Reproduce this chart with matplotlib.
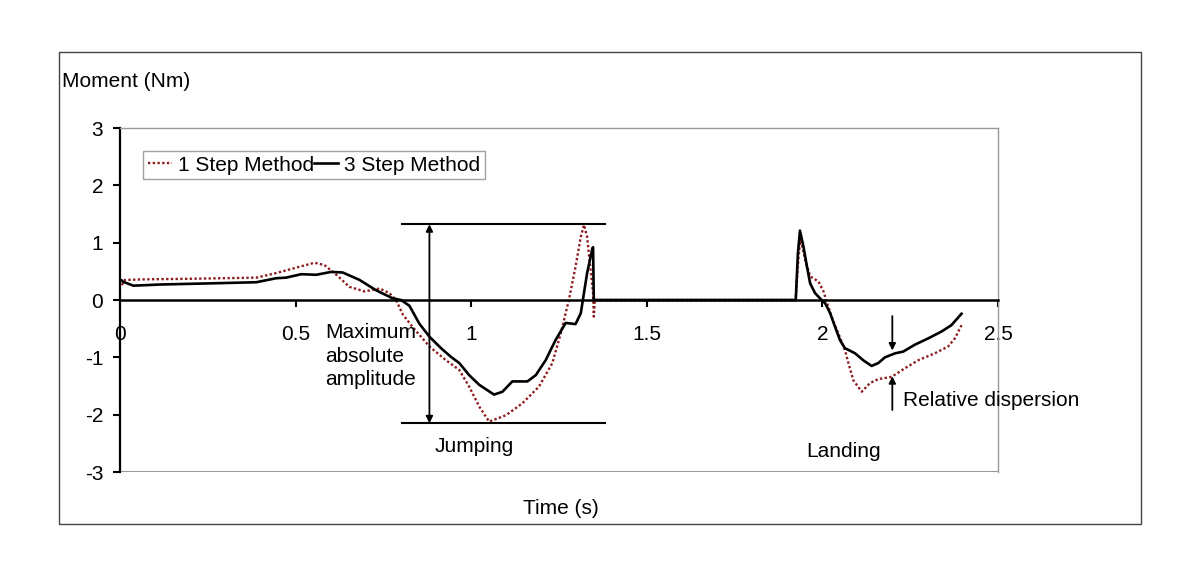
import numpy as np
import matplotlib.pyplot as plt
from matplotlib.patches import Rectangle

plt.rcParams['font.family'] = ['Liberation Sans', 'DejaVu Sans']
plt.rcParams['font.size'] = 15
plt.rcParams['axes.unicode_minus'] = False

# 3 step method (solid)
t3 = [0.005, 0.008, 0.038, 0.114, 0.256, 0.388, 0.445, 0.473, 0.516, 0.559,
      0.601, 0.634, 0.682, 0.729, 0.776, 0.800, 0.824, 0.852, 0.881, 0.914,
      0.942, 0.966, 0.994, 1.023, 1.065, 1.089, 1.117, 1.160, 1.184, 1.212,
      1.240, 1.269, 1.297, 1.312, 1.321, 1.330, 1.345, 1.347, 1.349, 1.924,
      1.930, 1.936, 1.946, 1.956, 1.965, 1.979, 1.993, 2.008, 2.022, 2.036,
      2.050, 2.064, 2.093, 2.116, 2.140, 2.159, 2.178, 2.207, 2.230, 2.263,
      2.301, 2.339, 2.367, 2.396]
m3 = [0.34, 0.32, 0.25, 0.27, 0.29, 0.31, 0.38, 0.39, 0.45, 0.44,
      0.49, 0.48, 0.35, 0.17, 0.03, 0.0, -0.10, -0.41, -0.64, -0.84,
      -0.99, -1.10, -1.31, -1.48, -1.65, -1.60, -1.42, -1.42, -1.31, -1.05,
      -0.70, -0.40, -0.42, -0.23, 0.12, 0.47, 0.90, 0.92, 0.0, 0.0,
      0.80, 1.21, 0.93, 0.58, 0.29, 0.12, 0.03, -0.06, -0.23, -0.47,
      -0.70, -0.84, -0.93, -1.05, -1.15, -1.10, -1.00, -0.93, -0.90, -0.78,
      -0.67, -0.55, -0.44, -0.24]

# 1 step method (dotted)
t1 = [0.005, 0.014, 0.066, 0.200, 0.388, 0.445, 0.511, 0.554, 0.582, 0.616,
      0.653, 0.696, 0.739, 0.767, 0.786, 0.805, 0.833, 0.881, 0.928, 0.966,
      0.994, 1.023, 1.051, 1.099, 1.146, 1.193, 1.231, 1.255, 1.278, 1.297,
      1.312, 1.321, 1.330, 1.340, 1.347, 1.349, 1.352, 1.924, 1.930, 1.937,
      1.951, 1.965, 1.974, 1.989, 2.003, 2.012, 2.026, 2.045, 2.064, 2.074,
      2.088, 2.112, 2.135, 2.159, 2.197, 2.235, 2.273, 2.320, 2.358, 2.377,
      2.396]
m1 = [0.26, 0.35, 0.36, 0.37, 0.39, 0.47, 0.58, 0.65, 0.61, 0.44,
      0.23, 0.15, 0.20, 0.12, 0.0, -0.25, -0.47, -0.81, -1.05, -1.22,
      -1.51, -1.86, -2.12, -2.01, -1.80, -1.51, -1.10, -0.58, 0.0, 0.58,
      1.10, 1.31, 1.10, 0.52, 0.12, -0.29, 0.0, 0.0, 0.60, 1.08,
      0.70, 0.41, 0.38, 0.32, 0.15, -0.03, -0.29, -0.58, -0.87, -1.10,
      -1.40, -1.60, -1.45, -1.38, -1.34, -1.19, -1.05, -0.93, -0.81, -0.67,
      -0.44]

xticks = [0, 0.5, 1, 1.5, 2, 2.5]
xticklabels = ["0", "0.5", "1", "1.5", "2", "2.5"]
yticks = [-3, -2, -1, 0, 1, 2, 3]

amp_top, amp_bottom = 1.32, -2.15
amp_x0, amp_x1, amp_arrow_x = 0.804, 1.381, 0.881
disp_x = 2.199

fig = plt.figure(figsize=(12, 5.74), dpi=100)
fig.patches.append(Rectangle((0.049, 0.0875), 0.9015, 0.822, transform=fig.transFigure,
                             fill=False, edgecolor="#444444", lw=1.0))
ax = fig.add_axes([0.1, 0.1777, 0.7317, 0.5993])

red = "#8e1c1c"
ax.plot(t1, m1, color=red, lw=1.7, linestyle=(0, (1, 1)), label="1 Step Method")
ax.plot(t3, m3, color="black", lw=1.9, label="3 Step Method")

ax.set_xlim(0, 2.5)
ax.set_ylim(-3, 3)

ax.spines['bottom'].set_position(('data', 0))
ax.spines['bottom'].set_linewidth(1.8)
ax.spines['left'].set_linewidth(1.6)
for s in ['top', 'right']:
    ax.spines[s].set_color("#999999")
    ax.spines[s].set_linewidth(1.0)
ax.axhline(-3, color="#999999", lw=1.5)

ax.set_xticks(xticks)
ax.set_xticklabels(xticklabels)
ax.set_yticks(yticks)
ax.tick_params(axis='x', direction='out', length=5, width=1.5, pad=13)
ax.tick_params(axis='y', direction='out', length=5, width=1.5, pad=7)

# amplitude marker
ax.plot([amp_x0, amp_x1], [amp_top, amp_top], color="black", lw=1.5)
ax.plot([amp_x0, amp_x1], [amp_bottom, amp_bottom], color="black", lw=1.5)
ax.annotate("", xy=(amp_arrow_x, amp_top), xytext=(amp_arrow_x, amp_bottom),
            arrowprops=dict(arrowstyle="<|-|>", color="black", lw=1.3,
                            mutation_scale=10, shrinkA=0, shrinkB=0))
ax.text(0.584, -0.98, "Maximum\nabsolute\namplitude", ha="left", va="center",
        linespacing=1.32)
ax.text(1.008, -2.56, "Jumping", ha="center", va="center")
ax.text(2.06, -2.64, "Landing", ha="center", va="center")

# relative dispersion marker
ax.annotate("", xy=(disp_x, -0.88), xytext=(disp_x, -0.28),
            arrowprops=dict(arrowstyle="-|>", color="black", lw=1.3,
                            mutation_scale=10, shrinkA=0, shrinkB=0))
ax.annotate("", xy=(disp_x, -1.33), xytext=(disp_x, -1.92),
            arrowprops=dict(arrowstyle="-|>", color="black", lw=1.3,
                            mutation_scale=10, shrinkA=0, shrinkB=0))
ax.text(2.23, -1.75, "Relative dispersion", ha="left", va="center")

leg = ax.legend(loc="upper left", bbox_to_anchor=(143 / 1200, 1 - 151 / 574),
                bbox_transform=fig.transFigure, ncol=2, frameon=True, fancybox=False,
                handlelength=1.15, handletextpad=0.3, columnspacing=0.0,
                borderpad=0.22, borderaxespad=0)
leg.get_frame().set_edgecolor("#888888")
leg.get_frame().set_linewidth(1.0)

fig.text(62 / 1200, 1 - 82 / 574, "Moment (Nm)", ha="left", va="center")
fig.text(561 / 1200, 1 - 508 / 574, "Time (s)", ha="center", va="center")

fig.savefig("out.png", dpi=100)
